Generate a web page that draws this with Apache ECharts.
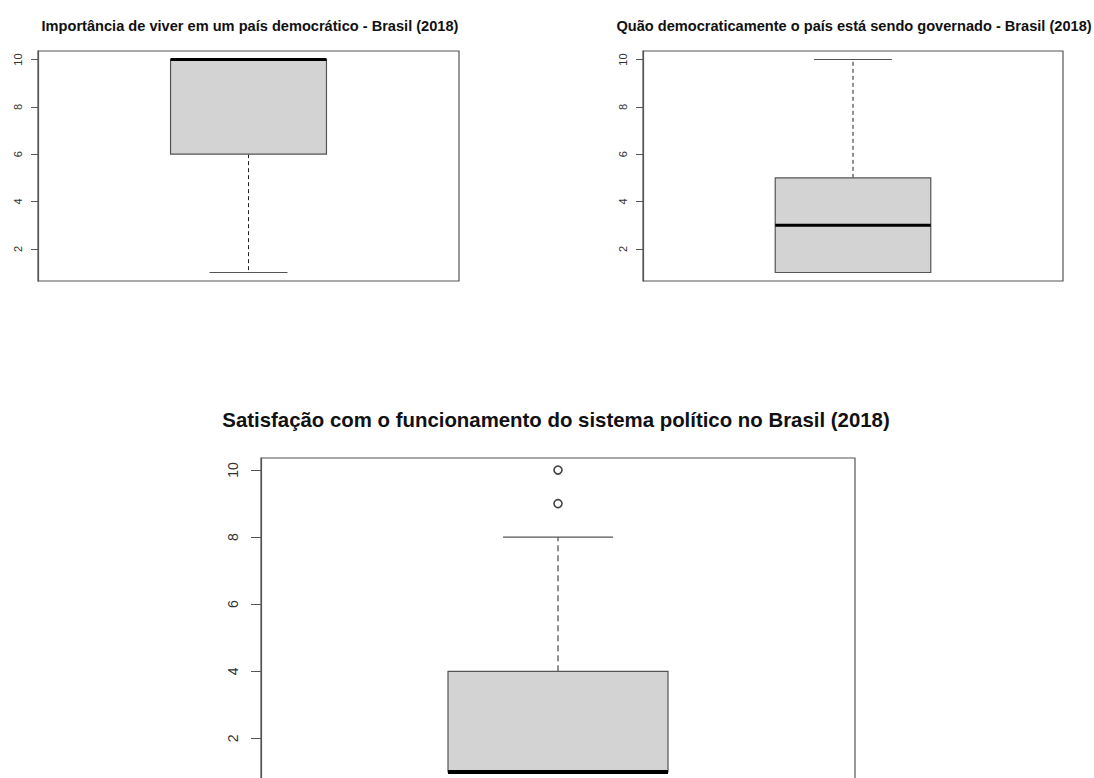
<!DOCTYPE html>
<html>
<head>
<meta charset="utf-8">
<title>Democracia e sistema político - Brasil (2018)</title>
<script src="https://cdn.jsdelivr.net/npm/echarts@6/dist/echarts.min.js"></script>
<style>
  html, body { margin: 0; padding: 0; background: #ffffff; overflow: hidden; }
  #chart { width: 1094px; height: 800px; }
</style>
</head>
<body>
<div id="chart"></div>
<script>
// Five-number summaries: [lower whisker, Q1, median, Q3, upper whisker]
const importanciaStats = [1, 6, 10, 10, 10];
const governoStats = [1, 1, 3, 5, 10];
const satisfacaoStats = [1, 1, 1, 4, 8];
// Points beyond the upper whisker
const satisfacaoOutliers = [9, 10];

const yTicks = [2, 4, 6, 8, 10];
const yMin = 0.64;
const yMax = 10.36;

const titles = [
  'Importância de viver em um país democrático - Brasil (2018)',
  'Quão democraticamente o país está sendo governado - Brasil (2018)',
  'Satisfação com o funcionamento do sistema político no Brasil (2018)'
];

const FONT = '"Liberation Sans", Arial, Helvetica, sans-serif';

// Grids laid out like a base-R boxplot panel (frame around plot area);
// the lower panel runs past the bottom edge of the view.
const grids = [
  { left: 38, top: 51, width: 421, height: 230 },
  { left: 643, top: 51, width: 420, height: 230 },
  { left: 261, top: 458, width: 594, height: 326 }
];

const scales = [
  { font: 11, margin: 15, tick: 7, median: 3, dash: [4, 3] },
  { font: 11, margin: 15, tick: 7, median: 3, dash: [4, 3] },
  { font: 14, margin: 21, tick: 10, median: 4, dash: [6, 4] }
];

function makeRenderer(s) {
  return function (params, api) {
    const x = api.value(0);
    const pLo = api.coord([x, api.value(1)]);
    const yQ1 = api.coord([x, api.value(2)])[1];
    const yMed = api.coord([x, api.value(3)])[1];
    const yQ3 = api.coord([x, api.value(4)])[1];
    const yHi = api.coord([x, api.value(5)])[1];
    const cx = pLo[0];
    const yLo = pLo[1];
    const band = api.size([1, 0])[0];
    // R: box width 0.8 of a unit slot (x range 0.46..1.54), staples half the box
    const hw = band * 0.4 / 1.08;
    const cw = band * 0.2 / 1.08;
    const whisker = { stroke: '#222', lineWidth: 1, lineDash: s.dash };
    const cap = { stroke: '#555', lineWidth: 1.2 };
    return {
      type: 'group',
      children: [
        { type: 'line', shape: { x1: cx, y1: yQ1, x2: cx, y2: yLo }, style: whisker },
        { type: 'line', shape: { x1: cx, y1: yQ3, x2: cx, y2: yHi }, style: whisker },
        { type: 'line', shape: { x1: cx - cw / 2, y1: yLo, x2: cx + cw / 2, y2: yLo }, style: cap },
        { type: 'line', shape: { x1: cx - cw / 2, y1: yHi, x2: cx + cw / 2, y2: yHi }, style: cap },
        {
          type: 'rect',
          shape: { x: cx - hw / 2, y: yQ3, width: hw, height: yQ1 - yQ3 },
          style: { fill: '#d3d3d3', stroke: '#555', lineWidth: 1.2 }
        },
        { type: 'line', shape: { x1: cx - hw / 2, y1: yMed, x2: cx + hw / 2, y2: yMed }, style: { stroke: '#000', lineWidth: s.median } }
      ]
    };
  };
}

const chart = echarts.init(document.getElementById('chart'), null, { renderer: 'svg' });

const option = {
  backgroundColor: '#ffffff',
  animation: false,
  title: [
    { text: titles[0], left: 245, top: 13, textAlign: 'center',
      textStyle: { fontFamily: FONT, fontSize: 14.6, fontWeight: 'bold', color: '#111' } },
    { text: titles[1], left: 849, top: 13, textAlign: 'center',
      textStyle: { fontFamily: FONT, fontSize: 14.6, fontWeight: 'bold', color: '#111' } },
    { text: titles[2], left: 551, top: 405, textAlign: 'center',
      textStyle: { fontFamily: FONT, fontSize: 20.4, fontWeight: 'bold', color: '#111' } }
  ],
  grid: grids.map(g => Object.assign({
    show: true, borderColor: '#555', borderWidth: 1.2, backgroundColor: 'transparent',
    containLabel: false
  }, g)),
  xAxis: grids.map((g, i) => ({
    type: 'category', gridIndex: i, data: [''], boundaryGap: true,
    axisLine: { show: false }, axisTick: { show: false }, axisLabel: { show: false },
    splitLine: { show: false }
  })),
  yAxis: grids.map((g, i) => ({
    type: 'value', gridIndex: i, min: yMin, max: yMax,
    axisLine: { show: true, lineStyle: { color: '#555', width: 1.2 } },
    axisTick: { show: true, customValues: yTicks, length: scales[i].tick, lineStyle: { color: '#555' } },
    axisLabel: {
      show: true, customValues: yTicks, rotate: 90, margin: scales[i].margin,
      fontFamily: FONT, fontSize: scales[i].font, color: '#333'
    },
    splitLine: { show: false }
  })),
  series: [
    { type: 'custom', xAxisIndex: 0, yAxisIndex: 0, renderItem: makeRenderer(scales[0]),
      data: [[0].concat(importanciaStats)], encode: { x: 0, y: [1, 2, 3, 4, 5] } },
    { type: 'custom', xAxisIndex: 1, yAxisIndex: 1, renderItem: makeRenderer(scales[1]),
      data: [[0].concat(governoStats)], encode: { x: 0, y: [1, 2, 3, 4, 5] } },
    { type: 'custom', xAxisIndex: 2, yAxisIndex: 2, renderItem: makeRenderer(scales[2]),
      data: [[0].concat(satisfacaoStats)], encode: { x: 0, y: [1, 2, 3, 4, 5] } },
    { type: 'scatter', xAxisIndex: 2, yAxisIndex: 2, symbol: 'circle', symbolSize: 8,
      itemStyle: { color: '#ffffff', borderColor: '#111', borderWidth: 1.6 },
      data: satisfacaoOutliers.map(v => [0, v]) }
  ]
};

chart.setOption(option);
</script>
</body>
</html>
